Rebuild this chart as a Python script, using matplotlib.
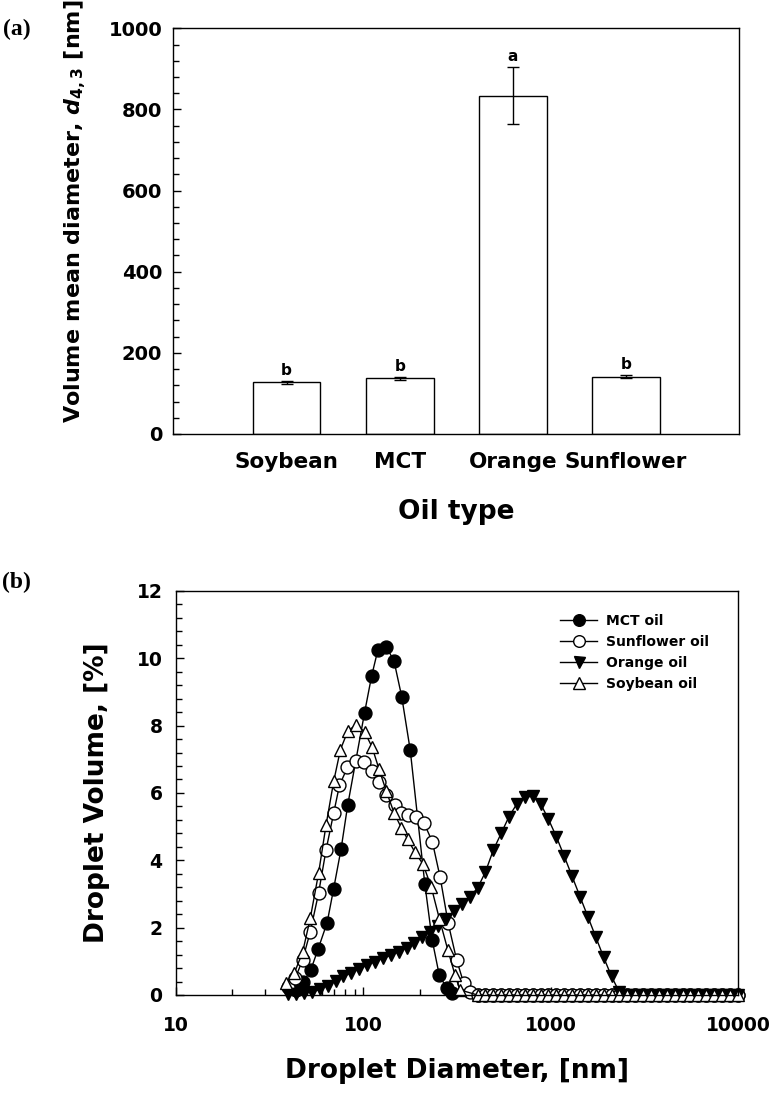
import matplotlib
matplotlib.use("Agg")
import matplotlib.pyplot as plt
from matplotlib.ticker import MultipleLocator, LogLocator, NullFormatter

plt.rcParams['font.family'] = ['DejaVu Sans']
plt.rcParams['font.weight'] = 'bold'
plt.rcParams['axes.labelweight'] = 'bold'
plt.rcParams['mathtext.fontset'] = 'dejavusans'
plt.rcParams['axes.linewidth'] = 1.0

# (a) volume mean diameter d4,3 per oil
oils = ['Soybean', 'MCT', 'Orange', 'Sunflower']
d43 = [127, 137, 834, 141]
d43_sd = [3, 3, 71, 4]
letters = ['b', 'b', 'a', 'b']

# (b) droplet size distributions
orange_diam = [39.8, 43.9, 48.3, 53.2, 58.6, 64.6, 71.2, 78.4, 86.4, 95.2,
               104.8, 115.5, 127.2, 140.2, 154.4, 170.1, 187.4, 206.5, 227.5, 250.6,
               276.1, 304.1, 335.1, 369.2, 406.7, 448.0, 493.5, 543.7, 599.0, 659.9,
               727.0, 800.9, 882.3, 972.0, 1071, 1180, 1300, 1432, 1578, 1738,
               1914, 2109, 2323, 2559, 2819, 3106, 3421, 3769, 4152, 4575,
               5040, 5552, 6116, 6738, 7423, 8178, 9009, 10000]
orange_vol = [0.02, 0.03, 0.05, 0.08, 0.17, 0.28, 0.42, 0.55, 0.66, 0.77,
              0.89, 0.99, 1.09, 1.18, 1.28, 1.40, 1.55, 1.72, 1.88, 2.05,
              2.26, 2.48, 2.70, 2.92, 3.17, 3.65, 4.30, 4.80, 5.30, 5.68,
              5.88, 5.90, 5.68, 5.22, 4.70, 4.12, 3.52, 2.92, 2.32, 1.72,
              1.12, 0.55, 0.08, 0.0, 0.0, 0.0, 0.0, 0.0, 0.0, 0.0,
              0.0, 0.0, 0.0, 0.0, 0.0, 0.0, 0.0, 0.0]

mct_diam = [43.8, 47.9, 52.5, 57.5, 64.2, 69.5, 76.2, 82.7, 101.6, 110.8,
            119.7, 132.8, 145.9, 160.4, 178.1, 213.0, 233.0, 254.1, 278.3, 296.0]
mct_vol = [0.15, 0.38, 0.74, 1.37, 2.15, 3.15, 4.34, 5.65, 8.38, 9.47,
           10.25, 10.34, 9.92, 8.86, 7.27, 3.30, 1.64, 0.60, 0.20, 0.05]

sun_diam = [39.5, 43.4, 47.5, 52.2, 57.8, 63.4, 69.6, 74.7, 82.4, 91.5,
            100.7, 111.2, 120.8, 132.8, 147.1, 159.8, 173.4, 192.3, 211.2, 233.6,
            257.2, 283.8, 314.8, 343.4, 371.0]
sun_vol = [0.25, 0.50, 1.04, 1.88, 3.03, 4.32, 5.41, 6.23, 6.76, 6.96,
           6.93, 6.65, 6.33, 5.95, 5.65, 5.40, 5.36, 5.29, 5.10, 4.55,
           3.49, 2.13, 1.04, 0.35, 0.08]

soy_diam = [38.7, 42.9, 47.5, 52.2, 57.8, 63.4, 69.6, 75.6, 82.9, 91.7,
            101.6, 111.5, 121.5, 132.8, 146.2, 159.8, 172.7, 188.3, 208.6, 230.7,
            254.7, 282.1, 308.3, 328.0]
soy_vol = [0.37, 0.65, 1.27, 2.28, 3.62, 5.06, 6.35, 7.29, 7.85, 8.02,
           7.82, 7.36, 6.70, 6.05, 5.40, 4.96, 4.62, 4.25, 3.88, 3.20,
           2.26, 1.35, 0.60, 0.15]

# all curves sit on zero from ~400 nm upward
tail_diam = orange_diam[24:]
tail_vol = [0.0, 0.0, 0.0, 0.0, 0.0, 0.0, 0.0, 0.0, 0.0, 0.0,
            0.0, 0.0, 0.0, 0.0, 0.0, 0.0, 0.0, 0.0, 0.0, 0.0,
            0.0, 0.0, 0.0, 0.0, 0.0, 0.0, 0.0, 0.0, 0.0, 0.0,
            0.0, 0.0, 0.0, 0.0]

fig = plt.figure(figsize=(7.74, 10.97), dpi=100)

# ---- panel (a) ----
ax1 = fig.add_axes([0.2239, 0.6044, 0.7313, 0.3698])
xpos = list(range(1, len(oils) + 1))
ax1.bar(xpos, d43, width=0.6, color='white', edgecolor='black', linewidth=1.0,
        yerr=d43_sd, capsize=4.5,
        error_kw=dict(elinewidth=1.0, capthick=1.0, ecolor='black'))
for x, m, s, t in zip(xpos, d43, d43_sd, letters):
    ax1.annotate(t, (x, m + s), xytext=(0, 2), textcoords='offset points',
                 ha='center', va='bottom', fontsize=11, fontweight='bold')
ax1.set_xlim(0, 5)
ax1.set_ylim(0, 1000)
ax1.set_xticks(xpos)
ax1.set_xticklabels(oils, fontsize=15.5)
ax1.tick_params(axis='x', length=0, pad=13)
ax1.yaxis.set_major_locator(MultipleLocator(200))
ax1.yaxis.set_minor_locator(MultipleLocator(40))
ax1.tick_params(axis='y', which='major', direction='in', length=6, width=1,
                labelsize=14, pad=8)
ax1.tick_params(axis='y', which='minor', direction='in', length=4, width=1)
ax1.set_xlabel('Oil type', fontsize=19)
ax1.xaxis.set_label_coords(0.5, -0.16)
ax1.set_ylabel(r'Volume mean diameter, $\mathbfit{d}_{\mathbf{4,3}}$ [nm]', fontsize=16)
ax1.yaxis.set_label_coords(-0.15, 0.55)

# ---- panel (b) ----
ax2 = fig.add_axes([0.2270, 0.0930, 0.7269, 0.3683])
ax2.plot(mct_diam + tail_diam, mct_vol + tail_vol, '-o', color='black',
         mfc='black', mec='black', ms=9.3, lw=1, label='MCT oil', clip_on=False)
ax2.plot(sun_diam + tail_diam, sun_vol + tail_vol, '-o', color='black',
         mfc='white', mec='black', ms=9.3, lw=1, label='Sunflower oil', clip_on=False)
ax2.plot(orange_diam, orange_vol, '-v', color='black',
         mfc='black', mec='black', ms=8.8, lw=1, label='Orange oil', clip_on=False)
ax2.plot(soy_diam + tail_diam, soy_vol + tail_vol, '-^', color='black',
         mfc='white', mec='black', ms=8.8, lw=1, label='Soybean oil', clip_on=False)
ax2.set_xscale('log')
ax2.set_xlim(10, 10000)
ax2.set_ylim(0, 12)
ax2.set_xticks([10, 100, 1000, 10000])
ax2.set_xticklabels(['10', '100', '1000', '10000'])
ax2.xaxis.set_minor_locator(LogLocator(base=10, subs=range(2, 10)))
ax2.xaxis.set_minor_formatter(NullFormatter())
ax2.yaxis.set_major_locator(MultipleLocator(2))
ax2.yaxis.set_minor_locator(MultipleLocator(0.4))
ax2.tick_params(axis='x', which='major', direction='in', length=6, width=1,
                labelsize=13.5, pad=15)
ax2.tick_params(axis='x', which='minor', direction='in', length=4, width=1)
ax2.tick_params(axis='y', which='major', direction='in', length=6, width=1,
                labelsize=13.5, pad=9.5)
ax2.tick_params(axis='y', which='minor', direction='in', length=4, width=1)
ax2.set_xlabel('Droplet Diameter, [nm]', fontsize=19)
ax2.xaxis.set_label_coords(0.5, -0.156)
ax2.set_ylabel('Droplet Volume, [%]', fontsize=19)
ax2.yaxis.set_label_coords(-0.117, 0.5)
ax2.legend(loc='upper left', bbox_to_anchor=(0.683, 0.943), frameon=False,
           fontsize=10, borderpad=0, borderaxespad=0, handlelength=2.7,
           handletextpad=0.6, labelspacing=0.5, markerscale=0.9)

fig.text(0.004, 0.9727, '(a)', family='Liberation Serif', weight='bold',
         fontsize=17, ha='left', va='center')
fig.text(0.003, 0.4686, '(b)', family='Liberation Serif', weight='bold',
         fontsize=17, ha='left', va='center')

fig.savefig('out.png', dpi=100)
